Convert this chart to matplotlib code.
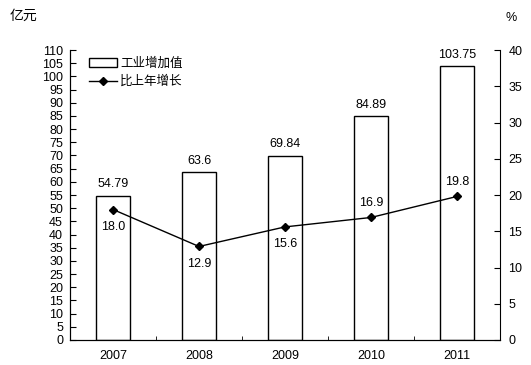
import matplotlib
matplotlib.use("Agg")
import matplotlib.pyplot as plt
from matplotlib.ticker import MultipleLocator, FixedLocator
import numpy as np

plt.rcParams['font.family'] = ['Noto Sans CJK SC', 'DejaVu Sans']

years = ['2007', '2008', '2009', '2010', '2011']
value_added = [54.79, 63.6, 69.84, 84.89, 103.75]
growth = [18.0, 12.9, 15.6, 16.9, 19.8]
value_labels = ['54.79', '63.6', '69.84', '84.89', '103.75']
growth_labels = ['18.0', '12.9', '15.6', '16.9', '19.8']
growth_label_pos = ['below', 'below', 'below', 'above', 'above']

fig = plt.figure(figsize=(5.31, 3.65), dpi=100)
ax = fig.add_axes([70/531, 25/365, 430/531, 290/365])
x = np.arange(len(years))
bars = ax.bar(x, value_added, width=0.4, color='white', edgecolor='black', linewidth=1.0,
              label='工业增加值', zorder=2)
ax.set_xlim(-0.5, len(years) - 0.5)
ax.set_ylim(0, 110)
ax.yaxis.set_major_locator(MultipleLocator(5))
ax.set_xticks(x)
ax.set_xticklabels(years, fontsize=9, family=['Liberation Sans'])
ax.tick_params(axis='x', length=0, pad=7)
ax.xaxis.set_minor_locator(FixedLocator(np.arange(0.5, len(years) - 1, 1.0)))
ax.tick_params(axis='x', which='minor', direction='in', length=3)
ax.tick_params(axis='y', direction='in', length=4, labelsize=9, pad=5)
for lab in ax.get_yticklabels():
    lab.set_family(['Liberation Sans'])
ax.spines['top'].set_visible(False)
ax.spines['right'].set_visible(False)

for xi, v, lbl in zip(x, value_added, value_labels):
    ax.annotate(lbl, (xi, v), xytext=(0, 4), textcoords='offset points', ha='center', va='bottom',
                fontsize=9, family=['Liberation Sans'])

ax2 = ax.twinx()
ax2.set_ylim(0, 40)
ax2.yaxis.set_major_locator(MultipleLocator(5))
ax2.tick_params(axis='y', direction='in', length=4, labelsize=9, pad=6)
for lab in ax2.get_yticklabels():
    lab.set_family(['Liberation Sans'])
ax2.spines['top'].set_visible(False)
line, = ax2.plot(x, growth, color='black', linewidth=1.0, marker='D', markersize=4,
                 label='比上年增长', zorder=3)
for xi, v, lbl, pos in zip(x, growth, growth_labels, growth_label_pos):
    if pos == 'below':
        ax2.annotate(lbl, (xi, v), xytext=(0, -8), textcoords='offset points', ha='center', va='top',
                     fontsize=9, family=['Liberation Sans'])
    else:
        ax2.annotate(lbl, (xi, v), xytext=(0, 6), textcoords='offset points', ha='center', va='bottom',
                     fontsize=9, family=['Liberation Sans'])

fig.legend([bars, line], ['工业增加值', '比上年增长'], loc='upper left',
           bbox_to_anchor=(84/531, 1 - 52/365), frameon=False, fontsize=9,
           handlelength=2.2, handletextpad=0.3, labelspacing=0.4, borderaxespad=0)

fig.text(10/531, 1 - 16/365, '亿元', fontsize=10, va='center', ha='left')
fig.text(511/531, 1 - 18/365, '%', fontsize=9, va='center', ha='center', family=['Liberation Sans'])

fig.savefig('out.png', dpi=100)
